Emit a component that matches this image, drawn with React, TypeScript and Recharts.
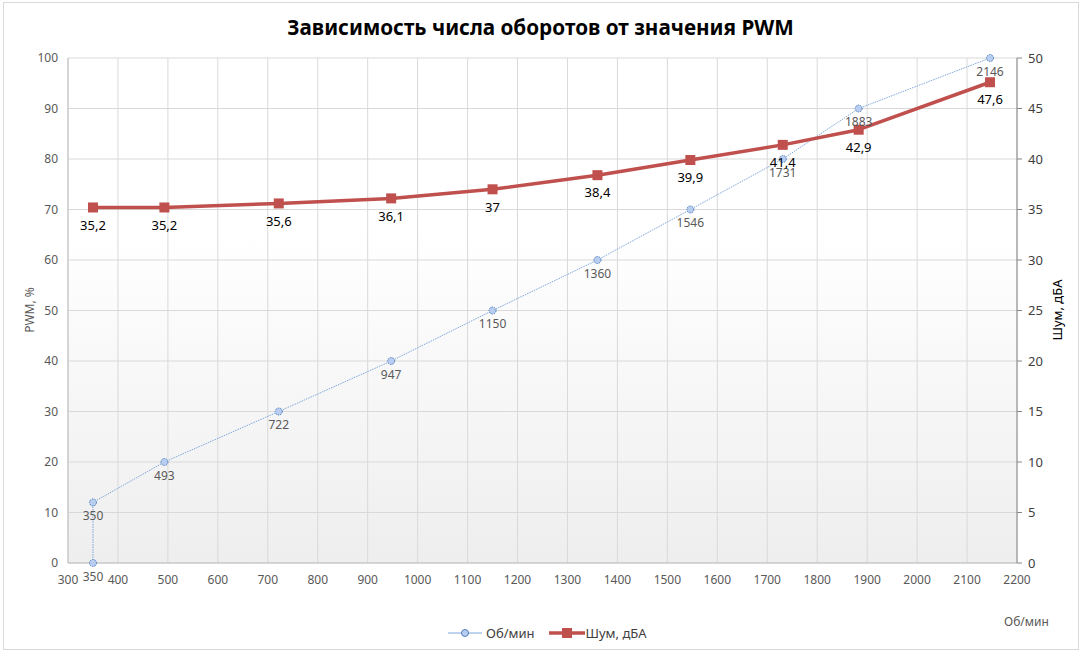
import { LineChart, Line, XAxis, YAxis, CartesianGrid, LabelList } from "recharts";

// Об/мин vs PWM, %
const RPM = [350, 350, 493, 722, 947, 1150, 1360, 1546, 1731, 1883, 2146];
const PWM = [0, 12, 20, 30, 40, 50, 60, 70, 80, 90, 100];

// Шум, дБА vs Об/мин
const NOISE_RPM = [350, 493, 722, 947, 1150, 1360, 1546, 1731, 1883, 2146];
const NOISE = [35.2, 35.2, 35.6, 36.1, 37, 38.4, 39.9, 41.4, 42.9, 47.6];

const X_TICKS = [300, 400, 500, 600, 700, 800, 900, 1000, 1100, 1200, 1300, 1400, 1500, 1600, 1700, 1800, 1900, 2000, 2100, 2200];
const PWM_TICKS = [0, 10, 20, 30, 40, 50, 60, 70, 80, 90, 100];
const NOISE_TICKS = [0, 5, 10, 15, 20, 25, 30, 35, 40, 45, 50];

const FONT = "'Noto Sans', 'Open Sans', sans-serif";
const BLUE_LINE = "#7fa7db";
const BLUE_EDGE = "#4f81bd";
const BLUE_FILL = "#b9cdf0";
const RED = "#c0504d";

const rpmData = RPM.map((rpm, i) => ({ rpm, pwm: PWM[i] }));
const noiseData = NOISE_RPM.map((rpm, i) => ({ rpm, noise: NOISE[i] }));

function SquareDot(props: any) {
  const { cx, cy, index } = props;
  if (cx == null || cy == null) return null;
  return <rect key={`sq-${index}`} x={cx - 5} y={cy - 5} width={10} height={10} fill={RED} />;
}

export default function App() {
  return (
    <div
      style={{
        position: "absolute",
        left: 0,
        top: 0,
        width: 1081,
        height: 655,
        background: "#fff",
        fontFamily: FONT,
        overflow: "hidden",
      }}
    >
      <div
        style={{
          position: "absolute",
          left: 3,
          top: 2,
          width: 1076,
          height: 648,
          border: "1px solid #d9d9d9",
          boxSizing: "border-box",
        }}
      />
      <div
        style={{
          position: "absolute",
          left: 0,
          top: 13,
          width: 1081,
          textAlign: "center",
          fontSize: 20.7,
          fontWeight: 700,
          color: "#000",
        }}
      >
        Зависимость числа оборотов от значения PWM
      </div>

      <div style={{ position: "absolute", left: 0, top: 0 }}>
        <LineChart width={1081} height={655} margin={{ top: 58, right: 0, bottom: 0, left: 0 }}>
          <defs>
            <linearGradient id="plotBg" x1="0" y1="0" x2="0" y2="1">
              <stop offset="0%" stopColor="#ffffff" />
              <stop offset="35%" stopColor="#ffffff" />
              <stop offset="100%" stopColor="#eeeeee" />
            </linearGradient>
          </defs>
          <CartesianGrid yAxisId="pwm" stroke="#d9d9d9" fill="url(#plotBg)" />
          <XAxis
            type="number"
            dataKey="rpm"
            domain={[300, 2200]}
            ticks={X_TICKS}
            allowDataOverflow
            height={92}
            axisLine={{ stroke: "#bfbfbf" }}
            tickLine={false}
            tickMargin={6}
            tick={{ fill: "#595959", fontSize: 12, fontFamily: FONT }}
            interval={0}
          />
          <YAxis
            yAxisId="pwm"
            domain={[0, 100]}
            ticks={PWM_TICKS}
            width={68}
            axisLine={{ stroke: "#bfbfbf" }}
            tickLine={false}
            tickMargin={4}
            tick={{ fill: "#595959", fontSize: 12, fontFamily: FONT }}
          />
          <YAxis
            yAxisId="noise"
            orientation="right"
            domain={[0, 50]}
            ticks={NOISE_TICKS}
            width={64}
            axisLine={{ stroke: "#868686" }}
            tickLine={{ stroke: "#868686" }}
            tickSize={5}
            tickMargin={6}
            tick={{ fill: "#404040", fontSize: 13, fontFamily: FONT, textAnchor: "start" }}
          />
          <Line
            yAxisId="pwm"
            data={rpmData}
            dataKey="pwm"
            type="linear"
            stroke={BLUE_LINE}
            strokeWidth={1}
            strokeDasharray="1.5 1"
            dot={{ r: 3.5, fill: BLUE_FILL, stroke: BLUE_EDGE, strokeWidth: 1 }}
            isAnimationActive={false}
          >
            <LabelList
              dataKey="rpm"
              position="bottom"
              offset={9}
              fill="#595959"
              fontSize={12}
              fontFamily={FONT}
            />
          </Line>
          <Line
            yAxisId="noise"
            data={noiseData}
            dataKey="noise"
            type="linear"
            stroke={RED}
            strokeWidth={3.5}
            strokeLinejoin="round"
            dot={<SquareDot />}
            isAnimationActive={false}
          >
            <LabelList
              dataKey="noise"
              position="bottom"
              offset={13}
              fill="#000"
              fontSize={13}
              fontFamily={FONT}
              formatter={(v: any) => String(v).replace(".", ",")}
            />
          </Line>
        </LineChart>
      </div>

      <div
        style={{
          position: "absolute",
          left: 29,
          top: 310,
          transform: "translate(-50%, -50%) rotate(-90deg)",
          fontSize: 12,
          color: "#595959",
          whiteSpace: "nowrap",
        }}
      >
        PWM, %
      </div>
      <div
        style={{
          position: "absolute",
          left: 1057,
          top: 310,
          transform: "translate(-50%, -50%) rotate(-90deg)",
          fontSize: 13,
          color: "#000",
          whiteSpace: "nowrap",
        }}
      >
        Шум, дБА
      </div>
      <div
        style={{
          position: "absolute",
          left: 1004,
          top: 613,
          fontSize: 12,
          color: "#595959",
          whiteSpace: "nowrap",
        }}
      >
        Об/мин
      </div>

      <div
        style={{
          position: "absolute",
          left: 447,
          top: 624,
          display: "flex",
          alignItems: "center",
          fontSize: 13,
          color: "#404040",
          whiteSpace: "nowrap",
        }}
      >
        <svg width={36} height={14}>
          <line x1={1} y1={7} x2={35} y2={7} stroke={BLUE_LINE} strokeWidth={1} />
          <circle cx={18} cy={7} r={3.5} fill={BLUE_FILL} stroke={BLUE_EDGE} strokeWidth={1} />
        </svg>
        <span style={{ marginLeft: 3 }}>Об/мин</span>
        <svg width={36} height={14} style={{ marginLeft: 14 }}>
          <line x1={0} y1={7} x2={36} y2={7} stroke={RED} strokeWidth={3.5} />
          <rect x={13} y={2} width={10} height={10} fill={RED} />
        </svg>
        <span style={{ marginLeft: 1 }}>Шум, дБА</span>
      </div>
    </div>
  );
}
